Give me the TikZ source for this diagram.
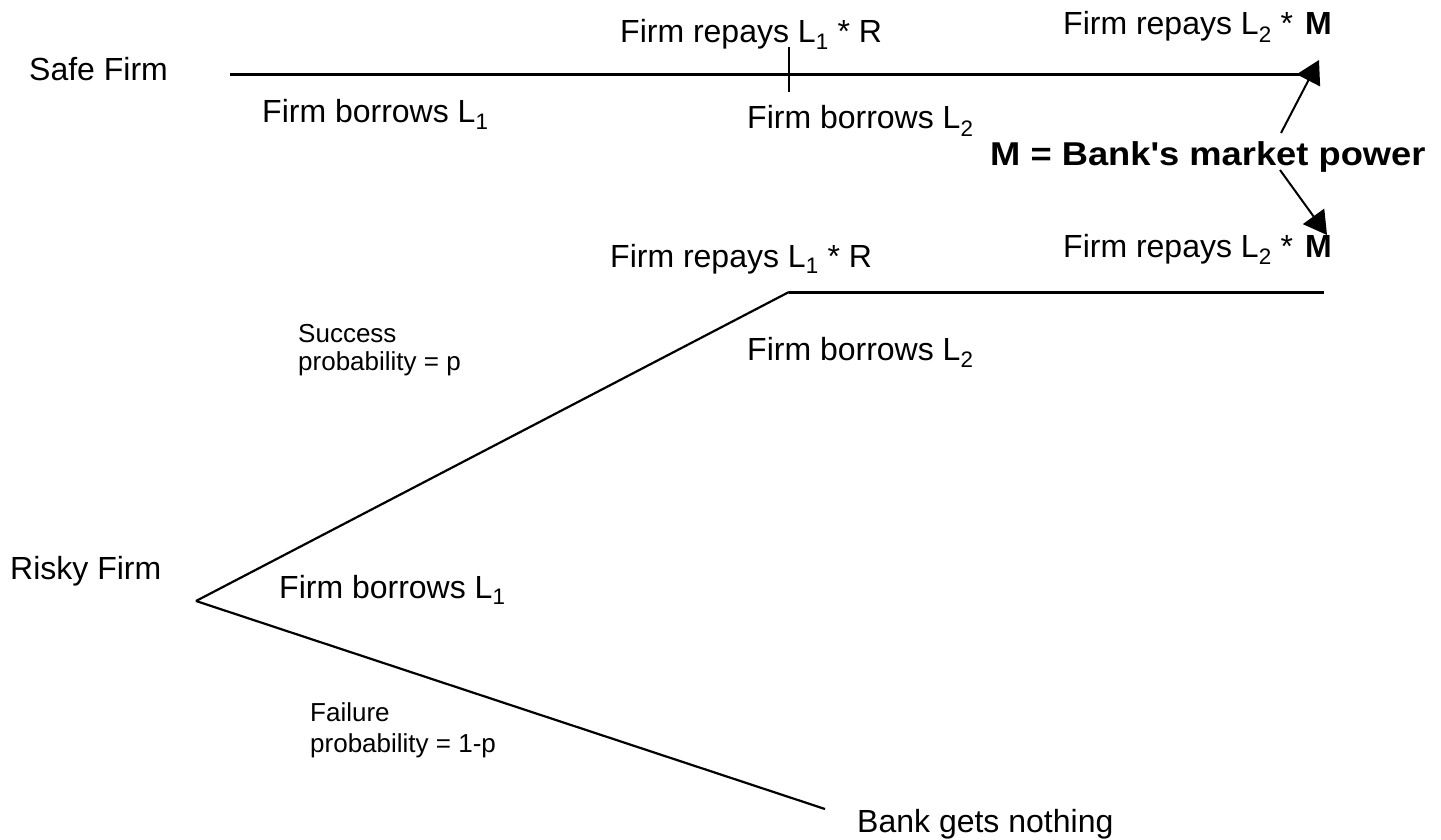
\documentclass[tikz,border=0pt]{standalone}
\usepackage{fontspec}
\setmainfont{Liberation Sans}
\usetikzlibrary{arrows.meta}
\tikzset{
  lbl/.style={anchor=base west, inner sep=0pt, font=\fontsize{32}{38}\selectfont},
  sml/.style={anchor=base west, inner sep=0pt, align=left, font=\fontsize{26}{28}\selectfont},
  bld/.style={anchor=base west, inner sep=0pt, font=\fontsize{33}{38}\selectfont\bfseries},
  ln/.style={line width=3pt},
  dg/.style={line width=2.2pt},
  tk/.style={line width=1.6pt},
  ptr/.style={line width=2pt, -{Triangle[length=23pt,width=26pt]}}
}
\newcommand{\repM}{Firm repays L\textsubscript{2} *\hspace{12pt}{\fontsize{32}{38}\selectfont\bfseries M}}
\begin{document}
\begin{tikzpicture}[x=1pt,y=-1pt]
\useasboundingbox (0,0) rectangle (1441,840);
% Safe firm
\node[lbl] (safe) at (29,81) {Safe Firm};
\coordinate (s0) at (230,75);
\coordinate (s1) at (1302,75);
\draw[ln] (s0) -- (s1);
\node[lbl] (sb1) at (262,123) {Firm borrows L\textsubscript{1}};
\node[lbl] (sr1) at (620,43) {Firm repays L\textsubscript{1} * R};
\coordinate (t1) at (789,47);
\coordinate (t2) at (789,92);
\draw[tk] (t1) -- (t2);
\node[lbl] (sb2) at (747,129) {Firm borrows L\textsubscript{2}};
\node[lbl] (sr2) at (1063,35) {\repM};
% market power
\node[bld] (mp) at (990,166) {\scalebox{1.1}[1]{M = Bank\textquotesingle s market power}};
\coordinate (a0) at (1281,133);
\coordinate (a1) at (1319,60);
\coordinate (b0) at (1280,170);
\coordinate (b1) at (1327,235);
\draw[ptr] (a0) -- (a1);
\draw[ptr] (b0) -- (b1);
% Risky firm
\node[lbl] (rf2) at (1063,257) {\repM};
\node[lbl] (rr1) at (610,267) {Firm repays L\textsubscript{1} * R};
\node[lbl] (rb2) at (747,360) {Firm borrows L\textsubscript{2}};
\node[sml] (succ) at (298,370) {Success\\probability = p};
\node[lbl] (risky) at (10,579) {Risky Firm};
\node[lbl] (rb1) at (279,598) {Firm borrows L\textsubscript{1}};
\node[sml] (fail) at (310,752) {Failure\\[3pt]probability = 1-p};
\node[lbl] (bank) at (857,832) {Bank gets nothing};
\coordinate (r0) at (196,601);
\coordinate (r1) at (789,292);
\coordinate (r2) at (1324,292);
\coordinate (r3) at (825,809);
\draw[dg] (r0) -- (r1);
\draw[ln] (r1) -- (r2);
\draw[dg] (r0) -- (r3);
\end{tikzpicture}
\end{document}
